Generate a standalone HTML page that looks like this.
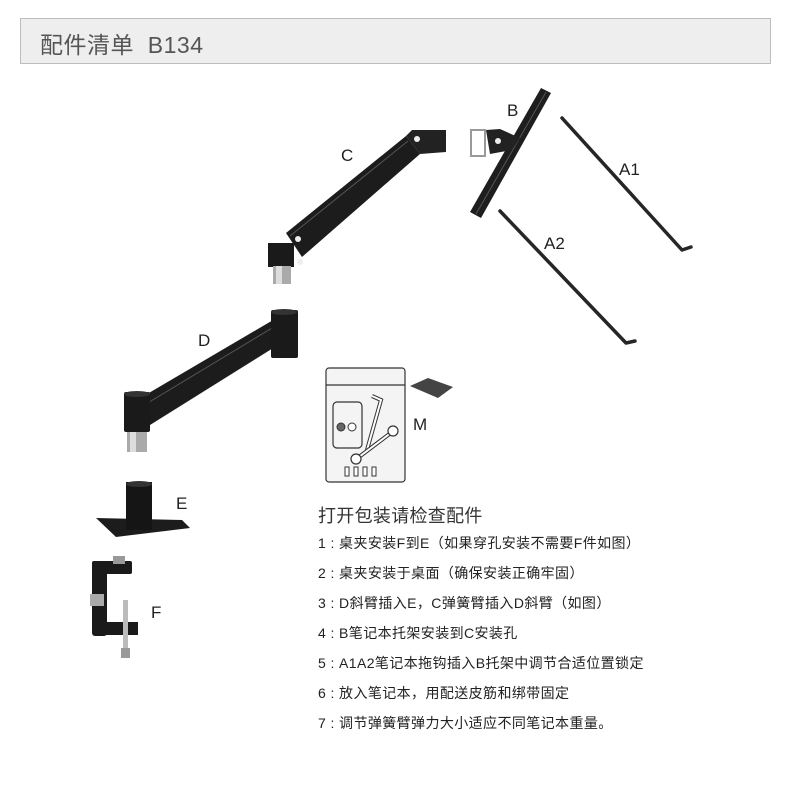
<!DOCTYPE html>
<html><head><meta charset="utf-8"><style>
html,body{margin:0;padding:0;background:#fff;}
body{width:790px;height:790px;position:relative;overflow:hidden;font-family:"Liberation Sans","Noto Sans CJK SC",sans-serif;}
.hdr{position:absolute;left:20px;top:18px;width:749px;height:44px;background:#eeeeee;border:1px solid #bdbdbd;}
.hdr span{position:absolute;left:19px;top:7px;font-size:23px;color:#555;letter-spacing:0.5px;}
.t{position:absolute;left:318px;color:#222;white-space:nowrap;}
.h{font-size:18px;top:502px;color:#333;letter-spacing:0.3px;}
.i{font-size:14px;letter-spacing:0.4px;}
.lb{position:absolute;font-size:17px;color:#222;}
svg{position:absolute;left:0;top:0;}
</style></head><body>
<div class="hdr"><span>配件清单&nbsp; B134</span></div>
<svg width="790" height="790" viewBox="0 0 790 790">
 <polygon points="286,233 406,136 420,154 302,257" fill="#1c1c1c"/>
 <polygon points="406,136 412,130 446,130 446,152 420,154" fill="#222"/>
 <line x1="290" y1="236" x2="408" y2="141" stroke="#555" stroke-width="1"/>
 <circle cx="298" cy="239" r="3" fill="#eee"/><circle cx="300" cy="262" r="3" fill="#eee"/><circle cx="417" cy="139" r="3" fill="#eee"/>
 <rect x="268" y="243" width="26" height="24" fill="#1a1a1a"/>
 <rect x="273" y="266" width="18" height="18" fill="#aaa"/><rect x="276" y="266" width="6" height="18" fill="#ddd"/>
 <polygon points="541,88 551,93 481,218 470,212" fill="#1e1e1e"/>
 <line x1="546" y1="92" x2="476" y2="214" stroke="#555" stroke-width="1"/>
 <polygon points="486,130 500,129 520,138 512,150 490,154" fill="#222"/>
 <circle cx="498" cy="141" r="3" fill="#eee"/>
 <rect x="471" y="130" width="14" height="26" fill="none" stroke="#999" stroke-width="2"/>
 <polyline points="562,118 682,250 691,247" fill="none" stroke="#262626" stroke-width="3.5" stroke-linejoin="round" stroke-linecap="round"/>
 <polyline points="500,211 626,343 635,341" fill="none" stroke="#262626" stroke-width="3.5" stroke-linejoin="round" stroke-linecap="round"/>
 <polygon points="142,397 280,316 286,340 150,425" fill="#1c1c1c"/>
 <line x1="146" y1="404" x2="282" y2="322" stroke="#555" stroke-width="1"/>
 <rect x="271" y="310" width="27" height="48" rx="2" fill="#1a1a1a"/>
 <ellipse cx="284" cy="312" rx="13" ry="3" fill="#333"/>
 <rect x="124" y="392" width="26" height="40" rx="2" fill="#1a1a1a"/>
 <ellipse cx="137" cy="394" rx="13" ry="3" fill="#333"/>
 <rect x="127" y="432" width="20" height="20" fill="#aaa"/><rect x="130" y="432" width="6" height="20" fill="#ddd"/>
 <polygon points="96,518 182,520 190,528 116,537" fill="#1c1c1c"/>
 <rect x="126" y="482" width="26" height="48" fill="#151515"/>
 <ellipse cx="139" cy="484" rx="13" ry="3" fill="#333"/>
 <rect x="92" y="561" width="15" height="75" rx="3" fill="#1a1a1a"/>
 <rect x="92" y="561" width="40" height="13" rx="2" fill="#1a1a1a"/>
 <rect x="104" y="622" width="34" height="13" fill="#1a1a1a"/>
 <rect x="113" y="556" width="12" height="8" fill="#999"/>
 <rect x="90" y="594" width="14" height="12" fill="#aaa"/>
 <rect x="123" y="600" width="5" height="50" fill="#bbb"/>
 <rect x="121" y="648" width="9" height="10" fill="#999"/>
 <rect x="326" y="368" width="79" height="114" rx="3" fill="#f4f4f4" stroke="#333" stroke-width="1.2"/>
 <line x1="326" y1="385" x2="405" y2="385" stroke="#333" stroke-width="1.2"/>
 <rect x="333" y="402" width="29" height="46" rx="4" fill="none" stroke="#333" stroke-width="1.2"/>
 <circle cx="341" cy="427" r="4" fill="#666" stroke="#333"/><circle cx="352" cy="427" r="4" fill="#fff" stroke="#333"/>
 <polyline points="367,450 381,400 372,396" fill="none" stroke="#333" stroke-width="4"/>
 <polyline points="367,450 381,400 372,396" fill="none" stroke="#fff" stroke-width="2"/>
 <line x1="355" y1="460" x2="392" y2="432" stroke="#333" stroke-width="4"/>
 <line x1="355" y1="460" x2="392" y2="432" stroke="#fff" stroke-width="2"/>
 <circle cx="356" cy="459" r="5" fill="#fff" stroke="#333" stroke-width="1.2"/>
 <circle cx="393" cy="431" r="5" fill="#fff" stroke="#333" stroke-width="1.2"/>
 <g fill="#fff" stroke="#333" stroke-width="1">
  <rect x="345" y="467" width="4" height="9"/><rect x="354" y="467" width="4" height="9"/><rect x="363" y="467" width="4" height="9"/><rect x="372" y="467" width="4" height="9"/>
 </g>
 <polygon points="410,386 428,378 453,387 438,398" fill="#444"/>
</svg>
<div class="lb" style="left:341px;top:146px">C</div>
<div class="lb" style="left:507px;top:101px">B</div>
<div class="lb" style="left:619px;top:160px">A1</div>
<div class="lb" style="left:544px;top:234px">A2</div>
<div class="lb" style="left:198px;top:331px">D</div>
<div class="lb" style="left:413px;top:415px">M</div>
<div class="lb" style="left:176px;top:494px">E</div>
<div class="lb" style="left:151px;top:603px">F</div>
<div class="t h">打开包装请检查配件</div>
<div class="t i" style="top:533px">1&nbsp;:&nbsp;桌夹安装F到E（如果穿孔安装不需要F件如图）</div>
<div class="t i" style="top:563px">2&nbsp;:&nbsp;桌夹安装于桌面（确保安装正确牢固）</div>
<div class="t i" style="top:593px">3&nbsp;:&nbsp;D斜臂插入E，C弹簧臂插入D斜臂（如图）</div>
<div class="t i" style="top:623px">4&nbsp;:&nbsp;B笔记本托架安装到C安装孔</div>
<div class="t i" style="top:653px">5&nbsp;:&nbsp;A1A2笔记本拖钩插入B托架中调节合适位置锁定</div>
<div class="t i" style="top:683px">6&nbsp;:&nbsp;放入笔记本，用配送皮筋和绑带固定</div>
<div class="t i" style="top:713px">7&nbsp;:&nbsp;调节弹簧臂弹力大小适应不同笔记本重量。</div>
</body></html>
